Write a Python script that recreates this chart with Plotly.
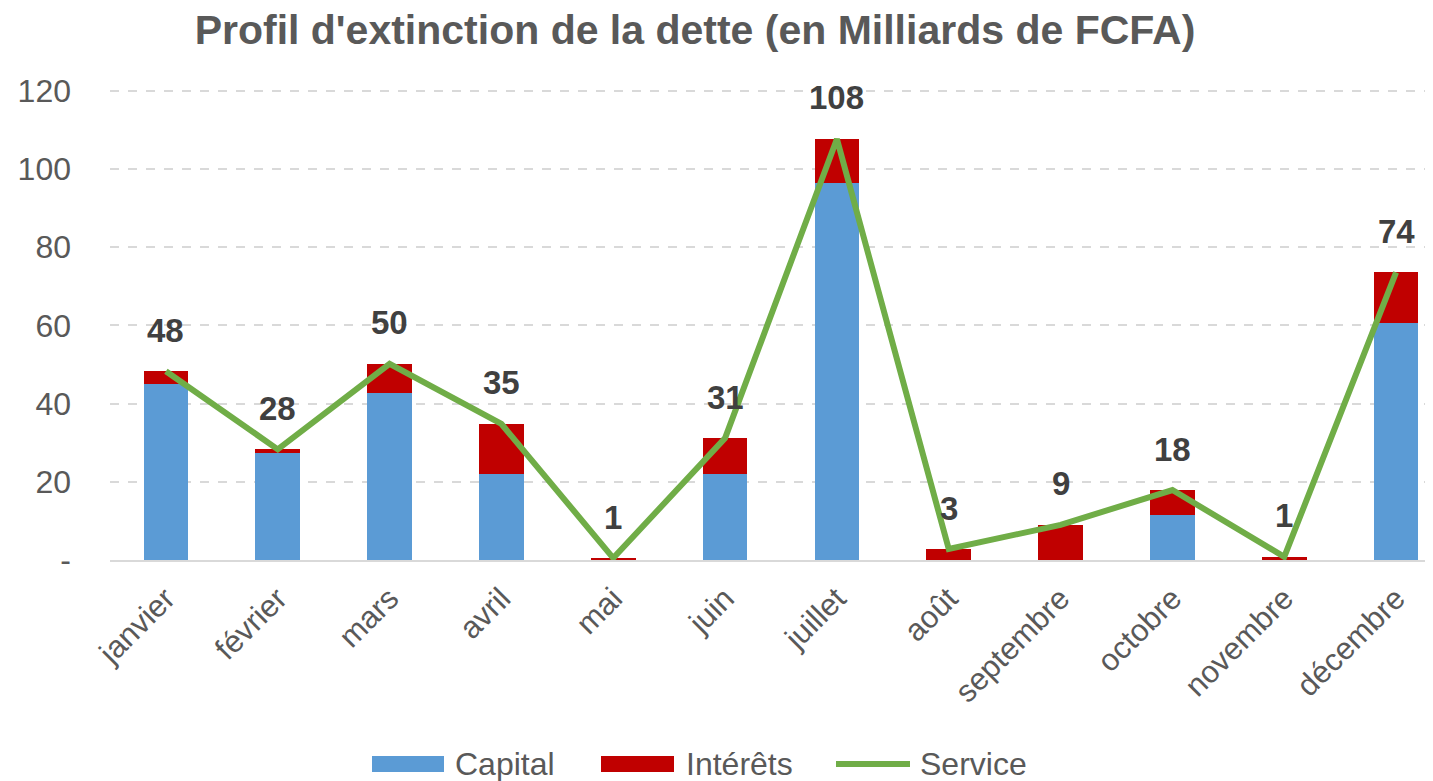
import plotly.graph_objects as go

mois = ["janvier", "février", "mars", "avril", "mai", "juin", "juillet",
        "août", "septembre", "octobre", "novembre", "décembre"]
capital = [45, 27.3, 42.8, 22, 0, 22, 96.4, 0, 0, 11.5, 0, 60.6]
interets = [3.3, 1.0, 7.4, 12.8, 0.5, 9.2, 11.3, 2.8, 9.0, 6.4, 0.8, 13.0]
service = [48.3, 28.3, 50.2, 34.8, 0.5, 31.2, 107.7, 2.8, 9.0, 17.9, 0.8, 73.6]
labels = ["48", "28", "50", "35", "1", "31", "108", "3", "9", "18", "1", "74"]
y_ticks = [0, 20, 40, 60, 80, 100, 120]
y_ticktext = ["-", "20", "40", "60", "80", "100", "120"]
legend_names = ["Capital", "Intérêts", "Service"]

FONT = "Liberation Sans, Arial, sans-serif"
C_CAP, C_INT, C_SERV = "#5B9BD5", "#C00000", "#70AD47"

# The page body has an 8px default margin, so the figure is drawn 8px
# smaller and all page positions below are offset by OFF.
OFF = 8
W, H = 1433 - OFF, 781 - OFF
L, R, T, B = 110 - OFF, 0, 87 - OFF, 221
pw, ph = W - L - R, H - T - B

def pxp(x_page):
    return (x_page - OFF - L) / pw

def pyp(y_page):
    return (H - B - (y_page - OFF)) / ph

fig = go.Figure()
fig.add_trace(go.Bar(x=mois, y=capital, name=legend_names[0], marker_color=C_CAP,
                     marker_line_width=0, width=0.4, showlegend=False))
fig.add_trace(go.Bar(x=mois, y=interets, name=legend_names[1], marker_color=C_INT,
                     marker_line_width=0, width=0.4, showlegend=False))
fig.add_trace(go.Scatter(x=mois, y=service, name=legend_names[2], mode="lines",
                         line=dict(color=C_SERV, width=6), showlegend=False))

for m, s, t in zip(mois, service, labels):
    fig.add_annotation(x=m, y=s, text=f"<b>{t}</b>", showarrow=False,
                       yshift=41, font=dict(size=33, color="#404040", family=FONT))

# Legend (drawn manually to get the wide swatches of the reference)
legend_y = 764
fig.add_shape(type="rect", xref="paper", yref="paper",
              x0=pxp(372), x1=pxp(444), y0=pyp(772), y1=pyp(756),
              fillcolor=C_CAP, line_width=0)
fig.add_shape(type="rect", xref="paper", yref="paper",
              x0=pxp(601), x1=pxp(674), y0=pyp(772), y1=pyp(756),
              fillcolor=C_INT, line_width=0)
fig.add_shape(type="line", xref="paper", yref="paper",
              x0=pxp(836), x1=pxp(910), y0=pyp(legend_y), y1=pyp(legend_y),
              line=dict(color=C_SERV, width=6))
for name, x0 in zip(legend_names, [453, 684, 918]):
    fig.add_annotation(xref="paper", yref="paper", x=pxp(x0), y=pyp(legend_y),
                       xanchor="left", yanchor="middle", text=name, showarrow=False,
                       font=dict(size=32, color="#595959", family=FONT))

fig.update_layout(
    barmode="stack",
    width=W, height=H,
    margin=dict(l=L, r=R, t=T, b=B, autoexpand=False),
    paper_bgcolor="white", plot_bgcolor="white",
    font=dict(family=FONT, color="#595959", size=32),
    title=dict(text="<b>Profil d'extinction de la dette (en Milliards de FCFA)</b>",
               x=(695 - OFF) / W, xanchor="center", y=1 - (30 - OFF) / H,
               yanchor="middle",
               font=dict(size=41, color="#595959", family=FONT)),
    showlegend=False,
    xaxis=dict(tickangle=-45, showgrid=False, showline=True, linecolor="#D9D9D9",
               linewidth=2, range=[-0.5, 11.33], tickfont=dict(size=31),
               ticks="", ticklabelstandoff=6),
    yaxis=dict(range=[0, 121], tickvals=y_ticks, ticktext=y_ticktext,
               showgrid=True, gridcolor="#D9D9D9", gridwidth=2, griddash="dash",
               zeroline=False, showline=False, tickfont=dict(size=32),
               ticks="", ticklabelstandoff=38),
)

fig.write_html("out.html")
